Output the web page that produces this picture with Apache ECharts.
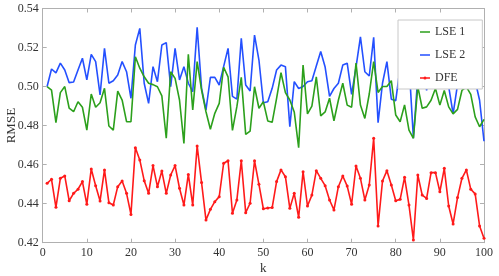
<!DOCTYPE html>
<html><head><meta charset="utf-8">
<script src="https://cdn.jsdelivr.net/npm/echarts@6/dist/echarts.min.js"></script>
<style>html,body{margin:0;padding:0;background:#fff}#c{width:499px;height:276px}</style>
</head><body><div id="c"></div>
<script>
const seriesNames = ['LSE 1', 'LSE 2', 'DFE'];
const lse1 = [0.500,0.4982,0.4815,0.4969,0.500,0.4889,0.4871,0.4922,0.4894,0.4777,
0.4962,0.4894,0.4917,0.4991,0.4798,0.4777,0.4977,0.4931,0.482,0.482,
0.5153,0.5094,0.505,0.5017,0.501,0.4999,0.4952,0.4735,0.5076,0.5042,
0.4931,0.4709,0.5165,0.488,0.5128,0.4982,0.4871,0.4781,0.4863,0.4914,
0.5099,0.505,0.4775,0.4897,0.5047,0.4755,0.4772,0.4999,0.4889,0.4922,
0.4824,0.4817,0.494,0.5071,0.4969,0.4931,0.487,0.4687,0.511,0.486,
0.490,0.505,0.485,0.487,0.494,0.4825,0.493,0.5017,0.4905,0.4894,
0.512,0.4905,0.4837,0.4962,0.5128,0.497,0.500,0.500,0.503,0.4854,
0.482,0.4906,0.4777,0.4735,0.500,0.4889,0.4896,0.493,0.499,0.4905,
0.498,0.4896,0.486,0.4883,0.498,0.4998,0.496,0.4845,0.4794,0.4832];
const lse2 = [0.500,0.509,0.507,0.512,0.5085,0.502,0.5023,0.5085,0.5145,0.5034,
0.5165,0.5128,0.4957,0.5196,0.5017,0.503,0.5059,0.5128,0.5076,0.494,
0.5213,0.5298,0.5017,0.4914,0.5102,0.5025,0.5213,0.5225,0.4999,0.5196,
0.5034,0.5102,0.5017,0.4974,0.5304,0.4991,0.488,0.5047,0.5047,0.5008,
0.5102,0.5196,0.495,0.4936,0.5247,0.5008,0.4977,0.5264,0.5136,0.4917,
0.4922,0.4991,0.5085,0.511,0.5102,0.4794,0.5025,0.499,0.500,0.5025,
0.503,0.5105,0.518,0.510,0.495,0.499,0.5017,0.511,0.512,0.496,
0.510,0.5255,0.5076,0.5054,0.5252,0.4815,0.5017,0.5128,0.4935,0.4928,
0.510,0.505,0.512,0.4735,0.505,0.512,0.498,0.515,0.506,0.510,
0.504,0.500,0.486,0.501,0.510,0.514,0.508,0.503,0.493,0.472];
const dfe = [0.4504,0.4525,0.4381,0.453,0.4542,0.4415,0.4453,0.4474,0.4513,0.4397,
0.4578,0.4492,0.4414,0.4573,0.4405,0.4393,0.4487,0.4516,0.4453,0.4345,
0.4687,0.4624,0.4518,0.4453,0.4595,0.4487,0.4567,0.4453,0.4547,0.4595,
0.4479,0.4393,0.455,0.4393,0.4696,0.4508,0.4316,0.4371,0.441,0.4436,
0.4607,0.462,0.4351,0.4419,0.462,0.4354,0.4402,0.462,0.4499,0.4374,
0.4378,0.438,0.4513,0.4573,0.4538,0.4376,0.4453,0.433,0.4564,0.4388,
0.4444,0.4569,0.453,0.4492,0.4419,0.4368,0.4487,0.4542,0.449,0.4397,
0.4593,0.453,0.4419,0.4496,0.4735,0.4286,0.4516,0.4569,0.4496,0.4415,
0.4422,0.4535,0.4393,0.4214,0.4547,0.4444,0.4427,0.4559,0.4559,0.4461,
0.4581,0.4388,0.4296,0.4431,0.453,0.4573,0.4474,0.445,0.4286,0.4223];
const xTicks = [0,10,20,30,40,50,60,70,80,90,100];
const yTicks = [0.42,0.44,0.46,0.48,0.50,0.52,0.54];

const pair = arr => arr.map((v,i)=>[i+1,v]);
const font = '"Liberation Serif", "Times New Roman", serif';
const frame = '#b0b0b0';
const colors = ['#2ca01c', '#2450ff', '#ff1a1a'];
const lineIcon = 'path://M0,0L0.01,0M0,10L0.01,10M0,4.3H10V5.7H0Z';
const dotIcon = 'path://M0,0L0.01,0M0,10L0.01,10M0,4.3H10V5.7H0Z M6.6,5A1.6,1.6 0 1 1 3.4,5A1.6,1.6 0 1 1 6.6,5Z';
const chart = echarts.init(document.getElementById('c'), null, {renderer:'canvas'});
const axX = (pos, show) => ({
  type:'value', position:pos, min:xTicks[0], max:xTicks[xTicks.length-1], interval:10,
  name: show ? 'k' : '', nameLocation:'middle', nameGap:19, nameMoveOverlap:false,
  nameTextStyle:{fontFamily:font, fontSize:13, color:'#333'},
  axisLine:{show:true, onZero:false, lineStyle:{color:frame, width:1}},
  axisTick:{show:true, inside:true, length:4, lineStyle:{color:frame}},
  axisLabel:{show:show, fontFamily:font, fontSize:12, color:'#333', margin:4},
  splitLine:{show:false}
});
const axY = (pos, show) => ({
  type:'value', position:pos, min:yTicks[0], max:yTicks[yTicks.length-1], interval:0.02,
  name: show ? 'RMSE' : '', nameLocation:'middle', nameGap:25, nameMoveOverlap:false,
  nameTextStyle:{fontFamily:font, fontSize:13, color:'#333'},
  axisLine:{show:true, onZero:false, lineStyle:{color:frame, width:1}},
  axisTick:{show:true, inside:true, length:4, lineStyle:{color:frame}},
  axisLabel:{show:show, fontFamily:font, fontSize:12, color:'#333', margin:4,
    formatter: v => v.toFixed(2)},
  splitLine:{show:false}
});
chart.setOption({
  animation:false,
  backgroundColor:'#fff',
  grid:{left:42.7, right:15, top:8.5, bottom:33.3, containLabel:false, outerBoundsMode:'none'},
  xAxis:[axX('bottom', true), axX('top', false)],
  yAxis:[axY('left', true), axY('right', false)],
  legend:{
    orient:'vertical', left:398, top:20,
    backgroundColor:'#fff', borderColor:'#c8c8c8', borderWidth:1,
    padding:[6,17,5,22], itemGap:11, itemWidth:10, itemHeight:12,
    textStyle:{fontFamily:font, fontSize:12, color:'#333'},
    data:[
      {name:seriesNames[0], icon:lineIcon, itemStyle:{color:colors[0]}},
      {name:seriesNames[1], icon:lineIcon, itemStyle:{color:colors[1]}},
      {name:seriesNames[2], icon:dotIcon, itemStyle:{color:colors[2]}}
    ]
  },
  series:[
    {name:seriesNames[0], type:'line', data:pair(lse1), symbol:'none',
     lineStyle:{color:colors[0], width:1.6}, itemStyle:{color:colors[0]}, z:2},
    {name:seriesNames[1], type:'line', data:pair(lse2), symbol:'none',
     lineStyle:{color:colors[1], width:1.6}, itemStyle:{color:colors[1]}, z:1},
    {name:seriesNames[2], type:'line', data:pair(dfe), symbol:'circle', symbolSize:3,
     lineStyle:{color:colors[2], width:1.6}, itemStyle:{color:colors[2]}, z:3}
  ]
});
</script></body></html>
